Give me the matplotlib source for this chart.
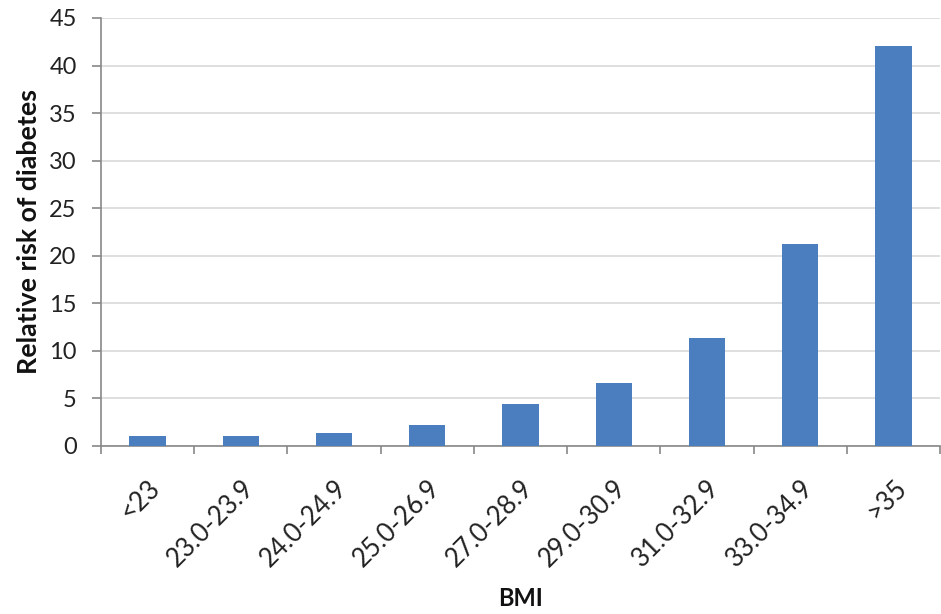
import matplotlib
matplotlib.use("Agg")
import matplotlib.pyplot as plt
import matplotlib.transforms as mtransforms
from matplotlib.ticker import FixedLocator

plt.rcParams['font.family'] = ['Lato', 'DejaVu Sans']

categories = ["<23", "23.0-23.9", "24.0-24.9", "25.0-26.9", "27.0-28.9",
              "29.0-30.9", "31.0-32.9", "33.0-34.9", ">35"]
relative_risk = [1.0, 1.0, 1.4, 2.2, 4.4, 6.6, 11.4, 21.2, 42.1]
y_ticks = [0, 5, 10, 15, 20, 25, 30, 35, 40, 45]

W, H = 941, 614
fig = plt.figure(figsize=(W / 100, H / 100), dpi=100)
left, right, top, bottom = 101, 940, 18, 446
ax = fig.add_axes([left / W, 1 - bottom / H, (right - left) / W, (bottom - top) / H])

x = list(range(len(categories)))
ax.bar(x, relative_risk, width=0.39, color="#4A7EBF", zorder=3)

ax.set_xlim(-0.5, len(categories) - 0.5)
ax.set_ylim(0, 45)
ax.set_yticks(y_ticks)
ax.yaxis.grid(True, color="#D9D9D9", linewidth=1.2, zorder=0)

ax.set_xticks(x)
ax.set_xticklabels(categories, rotation=45, ha="right", rotation_mode="anchor",
                   fontsize=18.5, color="#222222")
shift = mtransforms.ScaledTranslation(5 / 100, 0, fig.dpi_scale_trans)
for lbl in ax.get_xticklabels():
    lbl.set_transform(lbl.get_transform() + shift)
ax.tick_params(axis="x", which="major", length=0, pad=21)
ax.xaxis.set_minor_locator(FixedLocator([i + 0.5 for i in range(-1, len(categories))]))
ax.tick_params(axis="x", which="minor", length=6, color="#888888", width=1.2)
ax.tick_params(axis="y", length=6.5, color="#888888", width=1.2, labelsize=17,
               labelcolor="#222222", pad=11)

for side in ("top", "right"):
    ax.spines[side].set_visible(False)
for side in ("left", "bottom"):
    ax.spines[side].set_color("#888888")
    ax.spines[side].set_linewidth(1.2)

ax.set_ylabel("Relative risk of diabetes", fontsize=19.3, fontweight="bold",
              color="#111111")
ax.yaxis.set_label_coords(-0.072, 0.5)
ax.set_xlabel("BMI", fontsize=17, fontweight="bold", color="#111111")
ax.xaxis.set_label_coords(0.5, -0.33)

fig.savefig("out.png", dpi=100)
